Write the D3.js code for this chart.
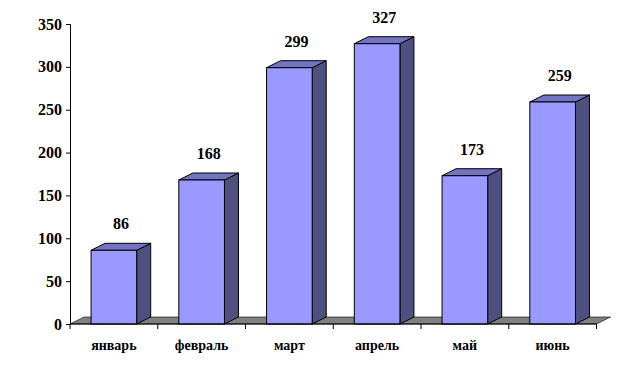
<!DOCTYPE html>
<html>
<head>
<meta charset="utf-8">
<script src="https://cdn.jsdelivr.net/npm/d3@7"></script>
<style>
  body { margin: 0; background: #fff; }
  svg text { font-family: "Times New Roman", "Liberation Serif", "DejaVu Serif", serif !important; font-weight: bold; fill: #000; }
</style>
</head>
<body>
<div id="chart"></div>
<script>
const months = ['январь', 'февраль', 'март', 'апрель', 'май', 'июнь'];
const values = [86, 168, 299, 327, 173, 259];
const yTicks = [0, 50, 100, 150, 200, 250, 300, 350];

const width = 643, height = 381;
const plotLeft = 70, plotRight = 596.5, plotTop = 24, plotBottom = 324;
const depthX = 14, depthY = -7;

const svg = d3.select('#chart').append('svg')
  .attr('width', width)
  .attr('height', height);

const x = d3.scaleBand().domain(months).range([plotLeft, plotRight]).paddingInner(0.48).paddingOuter(0.24);
const y = d3.scaleLinear().domain([0, 350]).range([plotBottom, plotTop]);

// floor
svg.append('polygon')
  .attr('points', [[plotLeft, plotBottom], [plotLeft + depthX, plotBottom + depthY],
    [plotRight + depthX, plotBottom + depthY], [plotRight, plotBottom]].join(' '))
  .attr('fill', '#808080')
  .attr('stroke', '#000')
  .attr('stroke-width', 0.6);

// bars
const bar = svg.selectAll('g.bar')
  .data(values)
  .enter()
  .append('g')
  .attr('class', 'bar');

bar.append('polygon') // side
  .attr('points', (d, i) => {
    const x1 = x(months[i]) + x.bandwidth();
    return [[x1, y(0)], [x1 + depthX, y(0) + depthY], [x1 + depthX, y(d) + depthY], [x1, y(d)]].join(' ');
  })
  .attr('fill', '#4f4f80')
  .attr('stroke', '#000');

bar.append('polygon') // top
  .attr('points', (d, i) => {
    const x0 = x(months[i]), x1 = x0 + x.bandwidth();
    return [[x0, y(d)], [x0 + depthX, y(d) + depthY], [x1 + depthX, y(d) + depthY], [x1, y(d)]].join(' ');
  })
  .attr('fill', '#7373c4')
  .attr('stroke', '#000');

bar.append('rect') // front
  .attr('x', (d, i) => x(months[i]))
  .attr('y', d => y(d))
  .attr('width', x.bandwidth())
  .attr('height', d => y(0) - y(d))
  .attr('fill', '#9999ff')
  .attr('stroke', '#000');

bar.append('text')
  .attr('x', (d, i) => x(months[i]) + x.bandwidth() / 2 + depthX / 2)
  .attr('y', d => y(d) + depthY - 14)
  .attr('text-anchor', 'middle')
  .attr('font-size', 16)
  .text(d => d);

// y axis
const yAxis = svg.append('g')
  .attr('transform', `translate(${plotLeft},0)`)
  .call(d3.axisLeft(y).tickValues(yTicks).tickSize(4).tickPadding(4));
yAxis.select('.domain').attr('stroke', '#000');
yAxis.selectAll('text').attr('font-size', 16);

// x axis
const xAxis = svg.append('g')
  .attr('transform', `translate(0,${plotBottom})`);
xAxis.append('line')
  .attr('x1', plotLeft).attr('x2', plotRight)
  .attr('stroke', '#000');
const step = (plotRight - plotLeft) / months.length;
xAxis.selectAll('line.tick')
  .data(d3.range(months.length + 1))
  .enter()
  .append('line')
  .attr('class', 'tick')
  .attr('x1', i => plotLeft + i * step)
  .attr('x2', i => plotLeft + i * step)
  .attr('y1', 0).attr('y2', 5)
  .attr('stroke', '#000');
xAxis.selectAll('text')
  .data(months)
  .enter()
  .append('text')
  .attr('x', d => x(d) + x.bandwidth() / 2)
  .attr('y', 26)
  .attr('text-anchor', 'middle')
  .attr('font-size', 14)
  .text(d => d);
</script>
</body>
</html>
